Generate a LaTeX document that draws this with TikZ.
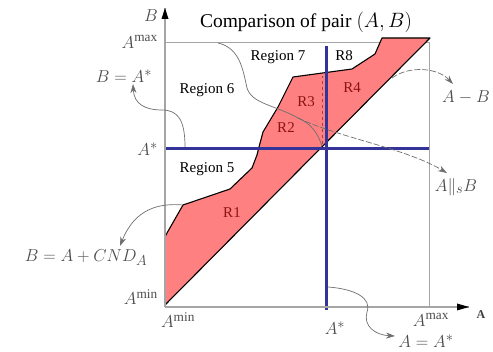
\documentclass[tikz,border=0pt]{standalone}
\usepackage{fontspec}
\setmainfont{Liberation Serif}
\usetikzlibrary{arrows.meta}
\definecolor{pinkfill}{RGB}{255,128,128}
\definecolor{navy}{RGB}{51,51,153}
\definecolor{darkred}{RGB}{140,20,20}
\definecolor{axisgray}{RGB}{165,165,165}
\definecolor{conngray}{RGB}{110,110,110}
\begin{document}
\begin{tikzpicture}[x=1pt,y=-1pt,
  axisline/.style={draw=axisgray, line width=1.3pt},
  boxline/.style={draw=axisgray, line width=1pt},
  blueline/.style={draw=navy, line width=3pt},
  regionfill/.style={fill=pinkfill, draw=black, line width=1.1pt, line join=round},
  txt/.style={font=\fontsize{15}{15}\selectfont, inner sep=0pt},
  rtxt/.style={txt, text=darkred},
  mtxt/.style={font=\fontsize{19}{19}\selectfont, text=black!70, inner sep=0pt},
  conn/.style={draw=conngray, line width=0.7pt},
  tip/.style={-{Stealth[length=9pt,width=6pt]}, draw=conngray, line width=0.7pt},
  reddash/.style={draw=darkred!80, dashed, line width=0.9pt},
  graydash/.style={draw=axisgray, dashed, line width=0.9pt}
]
\useasboundingbox (0,0) rectangle (493,352);

% origin and box corners
\coordinate (O) at (165,307);
\coordinate (Ytop) at (165,8);
\coordinate (Xend) at (469,307);
\coordinate (TL) at (165,43);
\coordinate (TR) at (429,43);
\coordinate (BR) at (429,307);

% box
\draw[boxline] (TL) -- (TR) -- (BR);

% pink region
\draw[regionfill] (165,305) -- (165,237) -- (167,233) -- (183,205) -- (230,189)
  -- (252,168) -- (257,155) -- (259,147) -- (263,132) -- (278,107) -- (293,77)
  -- (352,69) -- (375,54) -- (382,38) -- (430,38) -- cycle;

% dashed A* lines
\coordinate (Da) at (165,147);
\coordinate (Db) at (259,147);
\coordinate (Dc) at (322,147);
\coordinate (Dd) at (322,76);
\draw[graydash] (Da) -- (Db);
\draw[reddash] (Db) -- (Dc) -- (Dd);

% blue lines
\coordinate (Hl) at (166,149);
\coordinate (Hr) at (429,149);
\coordinate (Vt) at (326,46);
\coordinate (Vb) at (326,310);
\draw[blueline] (Hl) -- (Hr);
\draw[blueline] (Vt) -- (Vb);

% axes
\draw[axisline] (O) -- (Xend);
\draw[axisline] (O) -- (Ytop);
\fill[black] (165,8) -- (161.5,19) -- (168.5,19) -- cycle;
\fill[black] (469,307) -- (457,303.5) -- (457,310.5) -- cycle;

% labels
\node[font=\fontsize{19.5}{19.5}\selectfont, inner sep=0pt] (title) at (306,22) {Comparison of pair $(A,B)$};
\node[mtxt] (ylab) at (151,16) {$B$};
\node[font=\fontsize{12}{12}\selectfont\bfseries, text=black!75, inner sep=0pt] (xlab) at (481,315) {A};
\node[mtxt, anchor=east] (amaxl) at (158,42) {$A^{\mathrm{max}}$};
\node[mtxt, anchor=east] (astarl) at (158,149) {$A^{*}$};
\node[mtxt, anchor=east] (aminl) at (158,297) {$A^{\mathrm{min}}$};
\node[mtxt] (aminb) at (178,320) {$A^{\mathrm{min}}$};
\node[mtxt] (astarb) at (335,328) {$A^{*}$};
\node[mtxt] (amaxb) at (431,320) {$A^{\mathrm{max}}$};
\node[mtxt] (bastar) at (124,76) {$B=A^{*}$};
\node[mtxt] (bcnd) at (86,258) {$B=A+CND_A$};
\node[mtxt] (amb) at (466,97) {$A-B$};
\node[mtxt] (apar) at (456,187) {$A\|_s B$};
\node[mtxt] (aeq) at (426,341) {$A=A^{*}$};

\node[txt] (r6) at (207,90) {Region 6};
\node[txt] (r5) at (207,169) {Region 5};
\node[txt] (r7) at (278,57) {Region 7};
\node[txt] (r8) at (344,56) {R8};
\node[rtxt] (rr3) at (306,102) {R3};
\node[rtxt] (rr2) at (286,128) {R2};
\node[rtxt] (rr4) at (352,88) {R4};
\node[rtxt] (rr1) at (232,213) {R1};

% connectors
\coordinate (c1s) at (218,43);
\coordinate (c1m) at (298,118);
\coordinate (c1t) at (447,173);
\draw[conn] (c1s) .. controls (240,48) and (243,70) .. (247,88)
  .. controls (252,104) and (275,105) .. (c1m);
\draw[tip, dashed, dash pattern=on 6pt off 2pt] (c1m) .. controls (340,138) and (405,148) .. (c1t);
\coordinate (c2e) at (322,146);
\draw[conn] (c1m) .. controls (312,124) and (318,134) .. (c2e);

\coordinate (c3s) at (185,147);
\coordinate (c3t) at (133,84);
\draw[tip] (c3s) .. controls (185,120) and (178,110) .. (162,110)
  .. controls (145,110) and (134,104) .. (c3t);

\coordinate (c4s) at (183,205);
\coordinate (c4t) at (120,246);
\draw[tip] (c4s) .. controls (160,203) and (135,208) .. (c4t);

\coordinate (c5s) at (392,78);
\coordinate (c5t) at (453,84);
\draw[tip, dashed, dash pattern=on 6pt off 2pt] (c5s) .. controls (410,65) and (438,68) .. (c5t);

\coordinate (c6s) at (328,287);
\coordinate (c6t) at (395,336);
\draw[tip] (c6s) .. controls (355,289) and (372,298) .. (367,312)
  .. controls (363,326) and (375,335) .. (c6t);
\end{tikzpicture}
\end{document}
